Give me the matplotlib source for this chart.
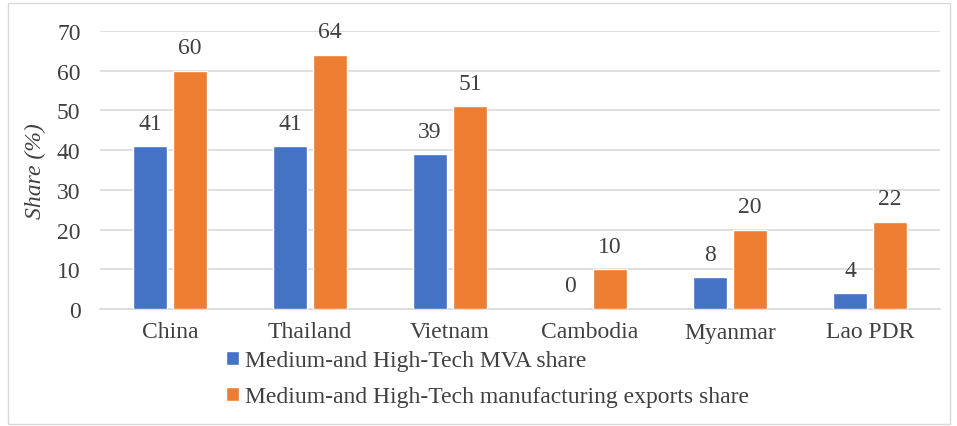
import matplotlib.pyplot as plt
import numpy as np
from matplotlib.patches import Rectangle

plt.rcParams['font.family'] = ['Liberation Serif', 'DejaVu Serif']

countries = ['China', 'Thailand', 'Vietnam', 'Cambodia', 'Myanmar', 'Lao PDR']
mva_share = [41, 41, 39, 0, 8, 4]
export_share = [60, 64, 51, 10, 20, 22]

blue = '#4472c4'
orange = '#ed7d31'
txt = '#404040'
fs = 17

fig = plt.figure(figsize=(9.57, 4.27), dpi=100)
ax = fig.add_axes([100 / 957, 1 - 310 / 427, 840 / 957, 278 / 427])

x = np.arange(len(countries))
w = 0.245
b1 = ax.bar(x - 0.143, mva_share, w, color=blue, edgecolor='white', linewidth=1,
            label='Medium-and High-Tech MVA share', zorder=3)
b2 = ax.bar(x + 0.143, export_share, w, color=orange, edgecolor='white', linewidth=1,
            label='Medium-and High-Tech manufacturing exports share', zorder=3)

for bars in (b1, b2):
    for r in bars:
        ax.annotate(f'{int(r.get_height())}', (r.get_x() + r.get_width() / 2, r.get_height()),
                    xytext=(0, 9), textcoords='offset points',
                    ha='center', va='bottom', fontsize=fs, color=txt)

ax.set_xlim(-0.5, len(countries) - 0.5)
ax.set_ylim(0, 70)
ax.set_yticks(range(0, 71, 10))
ax.set_xticks(x)
ax.set_xticklabels(countries)
ax.tick_params(length=0, labelsize=fs, labelcolor=txt)
ax.tick_params(axis='x', pad=9)
ax.tick_params(axis='y', pad=14)
ax.grid(axis='y', color='#d9d9d9', linewidth=1.2, zorder=0)
for s in ['top', 'right', 'left']:
    ax.spines[s].set_visible(False)
ax.spines['bottom'].set_color('#d9d9d9')
ax.spines['bottom'].set_linewidth(1.2)
ax.set_ylabel('Share (%)', fontsize=fs, style='italic', color=txt, labelpad=8)

fig.legend(handles=[b1, b2], loc='upper left', bbox_to_anchor=(217 / 957, 1 - 342 / 427),
           frameon=False, fontsize=fs, labelcolor=txt, handlelength=0.55, handleheight=0.55,
           handletextpad=0.25, labelspacing=0.62, borderaxespad=0)

fig.patches.append(Rectangle((8 / 957, 2 / 427), 942 / 957, 421 / 427, transform=fig.transFigure,
                             fill=False, edgecolor='#d9d9d9', linewidth=1))

fig.savefig('out.png', dpi=100)
